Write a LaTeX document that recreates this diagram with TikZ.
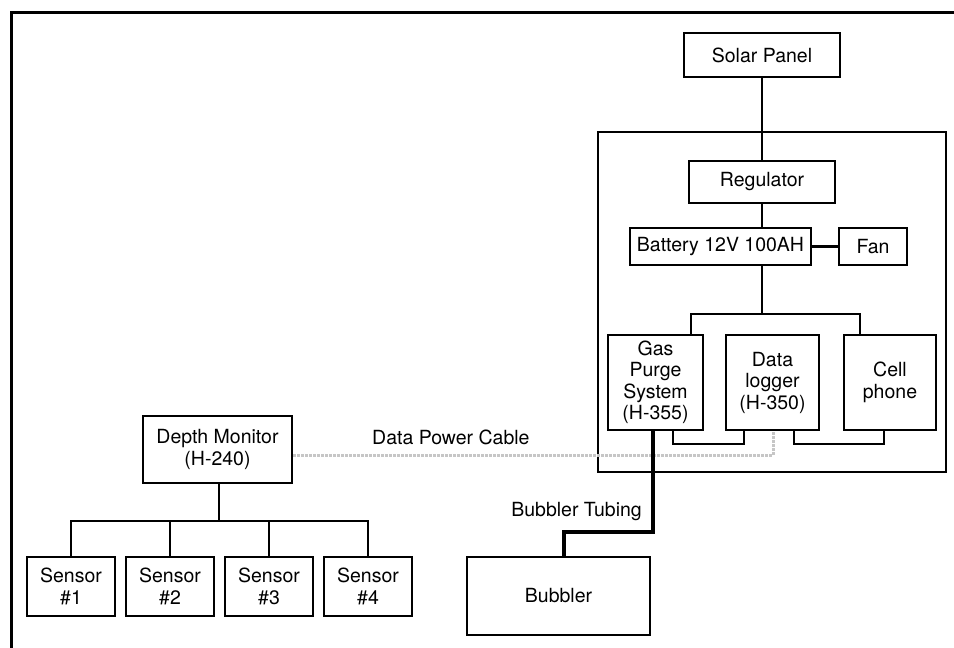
\documentclass[tikz,border=0pt]{standalone}
\usepackage{fontspec}
\setmainfont{TeX Gyre Heros}
\usetikzlibrary{positioning}

\begin{document}
\begin{tikzpicture}[
	x=1pt, y=-1pt,
	font=\fontsize{19.5}{21.5}\selectfont,
	unit/.style={rectangle, draw=black, line width=2pt, align=center, inner sep=2pt},
	sensor/.style={unit, minimum width=88pt, minimum height=59pt},
	inbox/.style={unit, minimum height=95pt},
	wire/.style={line width=2.5pt},
	tubing/.style={line width=4.8pt},
	cable/.style={line width=3pt, gray!45, densely dotted},
	note/.style={inner sep=0pt}
]
\useasboundingbox (0,0) rectangle (954,648);

% Page frame, only top and left edges
\draw[line width=3pt] (11,648) -- (11,12) -- (954,12);

% Solar panel and enclosure
\node[unit, minimum width=156pt, minimum height=44pt] (solar) at (762,55) {Solar Panel};
\draw[line width=2pt] (598,132) rectangle (946,472);

\node[unit, minimum width=146pt, minimum height=42pt] (reg) at (762,182) {Regulator};
\draw[wire] (solar) -- (reg);

\node[unit, minimum width=181pt, minimum height=37pt] (batt) at (720.5,246.5) {Battery 12V 100AH};
\node[unit, minimum width=68pt, minimum height=37pt] (fan) [right=26pt of batt] {Fan};
\draw[wire] (reg.south) -- (reg.south |- batt.north);
\draw[wire] (batt) -- (fan);

% Units inside the enclosure
\node[inbox, minimum width=95pt] (gas) at (655.5,382.5) {Gas\\Purge\\System\\(H-355)};
\node[inbox, minimum width=93pt] (logger) [right=21pt of gas] {Data\\logger\\(H-350)};
\node[inbox, minimum width=92pt] (cell) [right=23pt of logger] {Cell\\phone};

% Power bus from battery
\coordinate (bus) at (762,314);
\coordinate (busL) at (691,314);
\coordinate (busR) at (860,314);
\draw[wire] (batt.south -| bus) -- (bus);
\draw[wire] (busL |- gas.north) -- (busL) -- (busR) -- (busR |- cell.north);

% Links under the units
\coordinate (lnkA) at (673,444);
\coordinate (lnkB) at (744,444);
\coordinate (lnkC) at (794,444);
\coordinate (lnkD) at (884,444);
\draw[wire] (gas.south -| lnkA) -- (lnkA) -- (lnkB) -- (lnkB |- logger.south);
\draw[wire] (logger.south -| lnkC) -- (lnkC) -- (lnkD) -- (lnkD |- cell.south);

% Depth monitor and sensors
\node[unit, minimum width=149pt, minimum height=67pt] (depth) at (217.5,449.5) {Depth Monitor\\(H-240)};
\node[sensor] (s1) at (71,586.5) {Sensor\\\#1};
\node[sensor] (s2) [right=9pt of s1] {Sensor\\\#2};
\node[sensor] (s3) [right=9pt of s2] {Sensor\\\#3};
\node[sensor] (s4) [right=9pt of s3] {Sensor\\\#4};

\coordinate (sbus) at (219,521);
\draw[wire] (depth.south -| sbus) -- (sbus);
\draw[wire] (s1.north) |- (s4.north |- sbus) -- (s4.north);
\draw[wire] (s2.north) -- (s2.north |- sbus);
\draw[wire] (s3.north) -- (s3.north |- sbus);

% Data power cable to the logger
\coordinate (cbl) at (773,455);
\draw[cable] (depth.east |- cbl) -- (cbl) -- (cbl |- logger.south);
\node[note, anchor=west] (cabletxt) at (372,437) {Data Power Cable};

% Bubbler and its tubing
\node[unit, minimum width=183pt, minimum height=78pt] (bubbler) at (558.5,596) {Bubbler};
\coordinate (tubeA) at (653,532);
\coordinate (tubeB) at (564,532);
\draw[tubing] (gas.south -| tubeA) -- (tubeA) -- (tubeB) -- (tubeB |- bubbler.north);
\node[note, anchor=east] (tubetxt) at (642,512) {Bubbler Tubing};
\end{tikzpicture}
\end{document}
